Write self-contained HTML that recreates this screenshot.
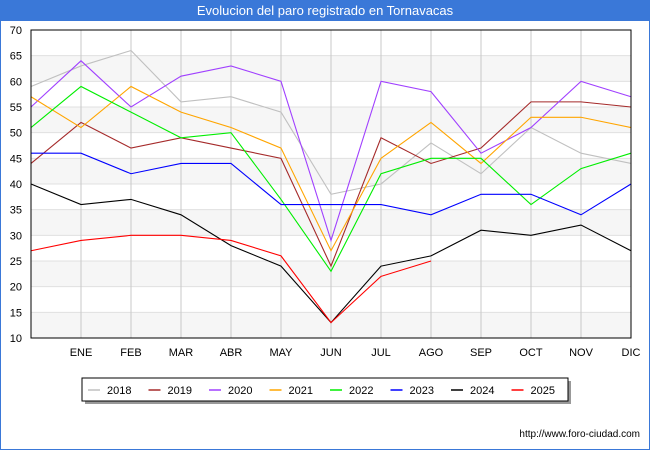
<!DOCTYPE html>
<html><head><meta charset="utf-8"><style>
body{margin:0;width:650px;height:450px;background:#fff;font-family:"Liberation Sans","DejaVu Sans",sans-serif;overflow:hidden}
</style></head><body>
<svg width="650" height="450" xmlns="http://www.w3.org/2000/svg">
<rect x="0" y="0" width="650" height="450" fill="#fff" stroke="#3a78d8" stroke-width="2"/>
<rect x="0" y="0" width="650" height="21" fill="#3a78d8"/>
<text x="325" y="15" text-anchor="middle" fill="#fff" font-size="13">Evolucion del paro registrado en Tornavacas</text>
<g id="bands"></g><g id="grid"></g><g id="lines"></g><g id="axes"></g>
<rect x="31" y="30" width="600" height="308" fill="none" stroke="#000" stroke-width="1"/>
<rect x="85" y="381" width="486" height="23" fill="#999"/>
<rect x="82" y="378" width="486" height="23" fill="#fff" stroke="#000"/>
<g id="legend"></g>
<text x="640" y="437" text-anchor="end" font-size="10" fill="#000">http://www.foro-ciudad.com</text>
</svg>
<script>
const months=["","ENE","FEB","MAR","ABR","MAY","JUN","JUL","AGO","SEP","OCT","NOV","DIC"];
const yTicks=[10,15,20,25,30,35,40,45,50,55,60,65,70];
const seriesNames=["2018","2019","2020","2021","2022","2023","2024","2025"];
const seriesColors=["#c0c0c0","#a52a2a","#a040ff","#ffa500","#00ee00","#0000ff","#000000","#ff0000"];
const s2018=[59,63,66,56,57,54,38,40,48,42,51,46,44];
const s2019=[44,52,47,49,47,45,24,49,44,47,56,56,55];
const s2020=[55,64,55,61,63,60,29,60,58,46,51,60,57];
const s2021=[57,51,59,54,51,47,27,45,52,44,53,53,51];
const s2022=[51,59,54,49,50,37,23,42,45,45,36,43,46];
const s2023=[46,46,42,44,44,36,36,36,34,38,38,34,40];
const s2024=[40,36,37,34,28,24,13,24,26,31,30,32,27];
const s2025=[27,29,30,30,29,26,13,22,25];
const allSeries=[s2018,s2019,s2020,s2021,s2022,s2023,s2024,s2025];
const NS="http://www.w3.org/2000/svg";
const X0=31,X1=631,Y0=338,Y1=30,YMIN=10,YMAX=70;
const xs=i=>X0+i*(X1-X0)/12;
const ys=v=>Y0-(v-YMIN)*(Y0-Y1)/(YMAX-YMIN);
function mk(t,a,p){const e=document.createElementNS(NS,t);for(const k in a)e.setAttribute(k,a[k]);document.getElementById(p).appendChild(e);return e;}
for(let i=0;i<yTicks.length-1;i+=2){
 const r=mk("rect",{x:X0,y:ys(yTicks[i+1]),width:X1-X0,height:ys(yTicks[i])-ys(yTicks[i+1]),fill:"#f6f6f6"},"bands");
 
 
}
yTicks.forEach(v=>{
 const l=mk("line",{x1:X0,x2:X1,y1:ys(v),y2:ys(v),stroke:"#e0e0e0"},"grid");
 
 
 const t=mk("text",{x:X0-9,y:ys(v)+4,"text-anchor":"end","font-size":"11",fill:"#000"},"axes");
 t.textContent=v;
 
 
});
months.forEach((m,i)=>{
 if(i===0)return;
 const l=mk("line",{x1:xs(i),x2:xs(i),y1:Y1,y2:Y0,stroke:"#c8c8c8"},"grid");
 
 
 const t=mk("text",{x:xs(i),y:Y0+18,"text-anchor":"middle","font-size":"11",fill:"#000"},"axes");
 t.textContent=m;
 
 
});
allSeries.forEach((s,k)=>{
 const p=mk("polyline",{points:s.map((v,i)=>xs(i)+","+ys(v)).join(" "),fill:"none",stroke:seriesColors[k],"stroke-width":"1.1"},"lines");
 
 
});
seriesNames.forEach((n,k)=>{
 const x=88+k*60.5;
 const l=mk("line",{x1:x,x2:x+12,y1:390,y2:390,stroke:seriesColors[k],"stroke-width":"1.5"},"legend");
 
 
 const t=mk("text",{x:x+19,y:394,"font-size":"11",fill:"#000"},"legend");
 t.textContent=n;
 
 
});
</script>
</body></html>
